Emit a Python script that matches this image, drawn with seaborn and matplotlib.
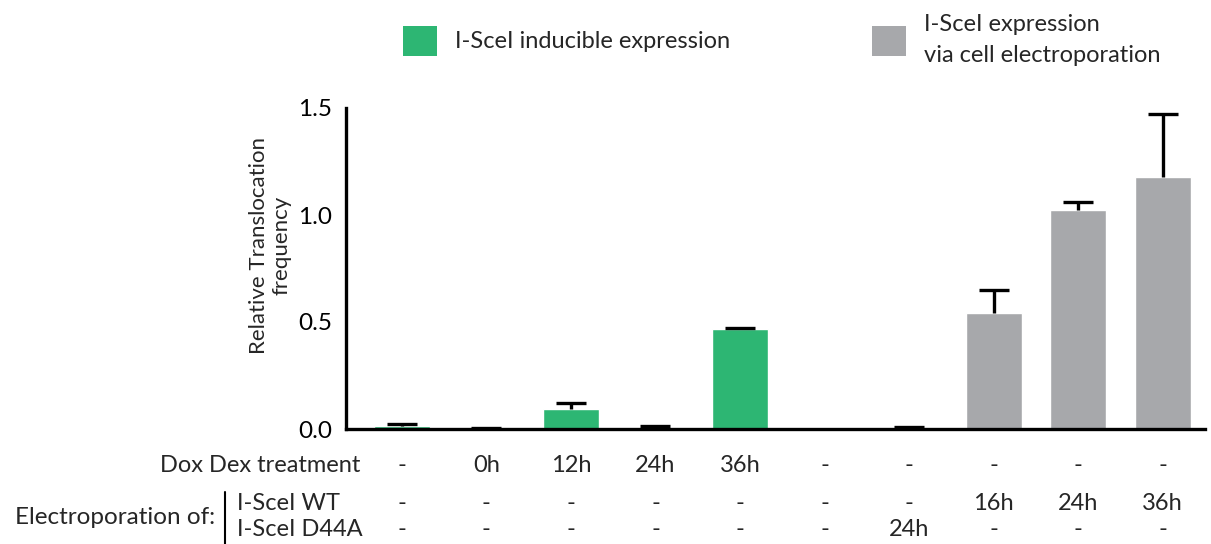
import matplotlib
matplotlib.use("Agg")
import matplotlib.pyplot as plt
from matplotlib.patches import Patch
from matplotlib.lines import Line2D
import seaborn as sns
import pandas as pd

# Conditions (one bar per column) and the treatment table under the axis
dox_dex = ["-", "0h", "12h", "24h", "36h", "-", "-", "-", "-", "-"]
wt_electro = ["-", "-", "-", "-", "-", "-", "-", "16h", "24h", "36h"]
d44a_electro = ["-", "-", "-", "-", "-", "-", "24h", "-", "-", "-"]

# Relative translocation frequency (mean) and upper error
freq = [0.014, 0.003, 0.093, 0.005, 0.466, 0.0, 0.003, 0.540, 1.023, 1.177]
err = [0.009, 0.004, 0.027, 0.009, 0.006, 0.0, 0.006, 0.110, 0.038, 0.295]
method = ["inducible"] * 5 + ["electroporation"] * 5

legend_labels = ["I-SceI inducible expression", "I-SceI expression\nvia cell electroporation"]
row_labels = ["Dox Dex treatment", "Electroporation of:", "I-SceI WT", "I-SceI D44A"]

GREEN = "#2db673"
GREY = "#a7a8ab"
FS = 17

sns.set_style("white")
plt.rcParams["font.family"] = ["Lato", "DejaVu Sans"]
plt.rcParams["font.size"] = FS

W, H = 1211, 544
fig = plt.figure(figsize=(W / 100, H / 100), dpi=100)
ax = fig.add_axes([346 / W, 1 - 429 / H, (1205 - 346) / W, (429 - 108) / H])

df = pd.DataFrame({
    "cond": [str(i) for i in range(len(freq))],
    "freq": freq,
    "method": method,
})
sns.barplot(data=df, x="cond", y="freq", hue="method", dodge=False,
            palette={"inducible": GREEN, "electroporation": GREY},
            saturation=1, width=0.66, errorbar=None, legend=False, ax=ax,
            zorder=2)

# upper-only error bars (lower caps hidden)
idx = [i for i, v in enumerate(freq) if v > 0]
eb = ax.errorbar(idx, [freq[i] for i in idx],
                 yerr=[[0] * len(idx), [err[i] for i in idx]],
                 fmt="none", ecolor="black", elinewidth=2.4, capsize=10.5,
                 capthick=2.4, zorder=3, clip_on=False)
eb.lines[1][0].set_visible(False)

ax.set_xlim(-0.66, 9.5)
ax.set_ylim(0, 1.5)
ax.set_yticks([0, 0.5, 1.0, 1.5])
ax.set_yticklabels(["0.0", "0.5", "1.0", "1.5"], fontsize=FS + 0.5)
ax.set_xticks(range(len(freq)))
ax.set_xticklabels([])
ax.set_xlabel("")
ax.set_ylabel("Relative Translocation\nfrequency", fontsize=16, linespacing=1.15)
ax.yaxis.set_label_coords(-0.063, 0.573)
for s in ["top", "right"]:
    ax.spines[s].set_visible(False)
for s in ["left", "bottom"]:
    ax.spines[s].set_linewidth(2.4)
    ax.spines[s].set_color("black")
ax.tick_params(axis="y", direction="out", length=7, width=2.4, pad=3, colors="black")
ax.tick_params(axis="x", direction="out", length=11, width=2.4, colors="black")
ax.grid(False)

# treatment table under the bars
rows = [(dox_dex, 37), (wt_electro, 74), (d44a_electro, 101)]
for values, dy in rows:
    for i, txt in enumerate(values):
        ax.annotate(txt, xy=(i, 0), xycoords=("data", "axes fraction"),
                    xytext=(0, -dy), textcoords="offset pixels",
                    ha="center", va="center", fontsize=FS, annotation_clip=False)

fig.text(360 / W, 1 - 466 / H, row_labels[0], ha="right", va="center", fontsize=FS)
fig.text(215 / W, 1 - 518 / H, row_labels[1], ha="right", va="center", fontsize=FS + 0.5)
fig.text(237 / W, 1 - 503 / H, row_labels[2], ha="left", va="center", fontsize=FS)
fig.text(237 / W, 1 - 530 / H, row_labels[3], ha="left", va="center", fontsize=FS)
fig.add_artist(Line2D([225 / W, 225 / W], [1 - 492 / H, 0], color="black", lw=1.5))

# legend
handles = [Patch(facecolor=GREEN, edgecolor="none"), Patch(facecolor=GREY, edgecolor="none")]
fig.legend(handles, legend_labels, ncol=2, loc="center left",
           bbox_to_anchor=(403 / W, 1 - 40 / H), frameon=False, fontsize=FS,
           handlelength=1.45, handleheight=1.6, handletextpad=0.75,
           columnspacing=6.0, borderaxespad=0, borderpad=0)
plt.setp(fig.legends[0].get_texts(), linespacing=1.6)

fig.savefig("out.png", dpi=100, facecolor="white")
